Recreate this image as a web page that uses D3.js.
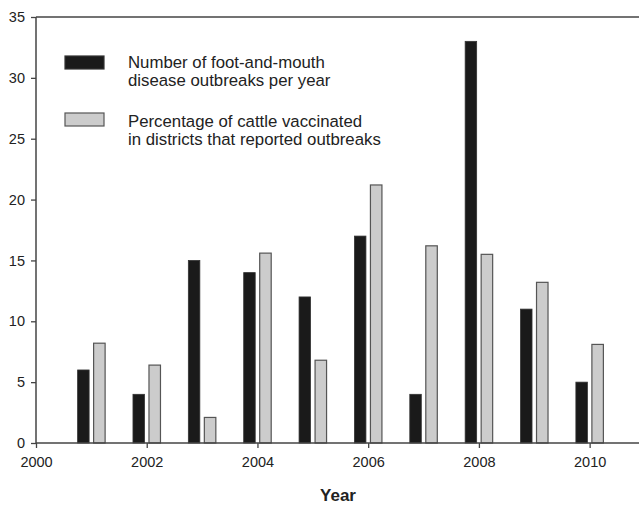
<!DOCTYPE html>
<html><head><meta charset="utf-8">
<script src="https://cdn.jsdelivr.net/npm/d3@7"></script>
<style>body{margin:0;background:#fff}svg{display:block}</style>
</head><body><svg id="c" width="639" height="505"></svg>
<script>
const years = [2001,2002,2003,2004,2005,2006,2007,2008,2009,2010];
const outbreaks = [6,4,15,14,12,17,4,33,11,5];
const vaccinated = [8.2,6.4,2.1,15.6,6.8,21.2,16.2,15.5,13.2,8.1];
const xTicks = [2000,2002,2004,2006,2008,2010];
const yTicks = [0,5,10,15,20,25,30,35];
const legendLabels = [["Number of foot-and-mouth","disease outbreaks per year"],["Percentage of cattle vaccinated","in districts that reported outbreaks"]];
const xTitle = "Year";

const svg = d3.select("#c");
const font = "Liberation Sans, Arial, sans-serif";
const x = d3.scaleLinear().domain([2000,2011]).range([36,645]);
const y = d3.scaleLinear().domain([0,35]).range([443,17]);
const axisCol = "#444";

const bw = 11.5;
// bars
svg.append("g").selectAll("rect").data(years).join("rect")
  .attr("x", (d,i)=>x(d)-8-bw/2).attr("y",(d,i)=>y(outbreaks[i]))
  .attr("width",bw).attr("height",(d,i)=>y(0)-y(outbreaks[i]))
  .attr("fill","#1a1a1a").attr("stroke","#333").attr("stroke-width",0.8);
svg.append("g").selectAll("rect").data(years).join("rect")
  .attr("x", (d,i)=>x(d)+8-bw/2).attr("y",(d,i)=>y(vaccinated[i]))
  .attr("width",bw).attr("height",(d,i)=>y(0)-y(vaccinated[i]))
  .attr("fill","#cccccc").attr("stroke","#555").attr("stroke-width",1.2);

// axes
const gx = svg.append("g").attr("transform","translate(0,443)")
  .call(d3.axisBottom(x).tickValues(xTicks).tickFormat(d3.format("d")).tickSize(5).tickPadding(9));
const gy = svg.append("g").attr("transform","translate(36,0)")
  .call(d3.axisLeft(y).tickValues(yTicks).tickSize(5).tickPadding(6));
[gx,gy].forEach(g=>{
  g.select(".domain").attr("stroke",axisCol).attr("stroke-width",1.5);
  g.selectAll(".tick line").attr("stroke",axisCol).attr("stroke-width",1.3);
  g.selectAll("text").attr("font-family",font).attr("font-size",14.5).attr("fill","#222");
});
gx.select(".domain").attr("d","M36,0H645");
gy.select(".domain").attr("d","M0,443V17");
// top frame line
svg.append("line").attr("x1",36).attr("x2",639).attr("y1",y(35)).attr("y2",y(35))
  .attr("stroke",axisCol).attr("stroke-width",1.5);

// legend
const lg = svg.append("g");
const fills = ["#1a1a1a","#cccccc"], strokes=["#333","#555"];
const ly = [56,113];
const tb = [67.5,126.5];
legendLabels.forEach((lines,i)=>{
  lg.append("rect").attr("x",65).attr("y",ly[i]).attr("width",39).attr("height",13)
    .attr("fill",fills[i]).attr("stroke",strokes[i]).attr("stroke-width",1.2);
  lines.forEach((t,j)=>{
    lg.append("text").attr("x",128).attr("y",tb[i]+j*18).text(t)
      .attr("font-family",font).attr("font-size",16.8).attr("fill","#222");
  });
});

svg.append("text").attr("x",338).attr("y",501).attr("text-anchor","middle")
  .attr("font-family",font).attr("font-weight","bold").attr("font-size",17).attr("fill","#222").text(xTitle);
</script></body></html>
